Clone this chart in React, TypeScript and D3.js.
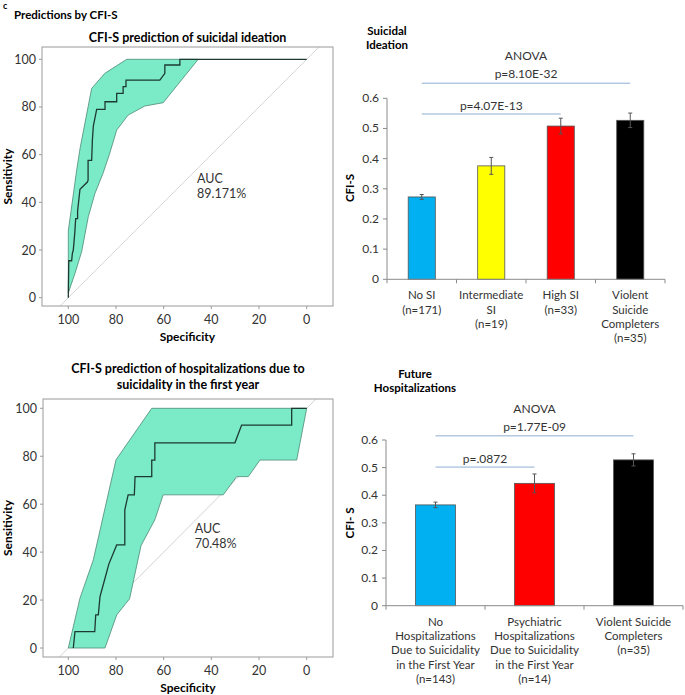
import * as d3 from "d3"

// Panel c: CFI-S predictions (ROC curves + group means)

// --- ROC: suicidal ideation ---
const siCurveSpec = [100, 99.8, 98.6, 98.3, 97.9, 97.3, 96.9, 96.1, 96.1, 95.1, 92, 91.7, 91.7, 90.2, 89.9, 89.5, 88.1, 84.6, 84.6, 79.7, 79.7, 77, 77, 75.8, 75.8, 61.6, 59.5, 59.5, 53.2, 53.2, 0]
const siCurveSens = [0, 15.5, 15.5, 18.5, 20, 27, 33.2, 33.2, 36.4, 45.5, 48.5, 49.3, 57.6, 57.6, 66, 72, 79, 79, 82.2, 82.2, 85.7, 85.7, 88.5, 88.5, 91.3, 91.3, 94.1, 97.6, 97.6, 100, 100]
const siUpperSpec = [100, 100, 96.5, 95, 90.2, 84.7, 75.5, 45.5]
const siUpperSens = [2, 28, 53.5, 63, 87.8, 94.1, 100, 100]
const siLowerSpec = [100, 97.2, 94.4, 91.6, 88.8, 85.5, 82.8, 79.7, 74.9, 67.9, 60.2, 45.5]
const siLowerSens = [2, 10.2, 19.3, 34, 43.8, 52, 60, 70.3, 76.6, 80.4, 81.8, 100]

// --- ROC: hospitalizations ---
const hoCurveSpec = [97.9, 97.2, 88.9, 88.5, 87.4, 86.7, 84.6, 83, 79.7, 76.3, 76.3, 74.9, 72.3, 72, 65, 65, 63.7, 63.7, 30.1, 27.3, 6.3, 6.3, 0]
const hoCurveSens = [0, 6.8, 6.8, 13.8, 13.8, 21.4, 29.1, 35, 43, 43, 57.6, 63.9, 63.9, 71.5, 71.5, 78.4, 78.4, 85.6, 85.6, 93, 93, 100, 100]
const hoUpperSpec = [100, 95.1, 89.5, 80, 65, 0]
const hoUpperSens = [0, 20.8, 36.8, 78.5, 100, 100]
const hoLowerSpec = [100, 84.6, 79.7, 74.3, 69.5, 63.7, 60.2, 35, 29.4, 24.5, 19.6, 4.2, 0]
const hoLowerSens = [0, 0, 13.8, 20.5, 42.7, 53.5, 63.9, 63.9, 71.5, 71.5, 78.4, 78.4, 100]

const rocTicks = [0, 20, 40, 60, 80, 100]

// --- bars: suicidal ideation ---
const siCategories = [
  ["No SI", "(n=171)"],
  ["Intermediate", "SI", "(n=19)"],
  ["High SI", "(n=33)"],
  ["Violent", "Suicide", "Completers", "(n=35)"],
]
const siMeans = [0.273, 0.376, 0.508, 0.527]
const siErrors = [0.008, 0.028, 0.026, 0.024]

// --- bars: future hospitalizations ---
const hoCategories = [
  ["No", "Hospitalizations", "Due to Suicidality", "in the First Year", "(n=143)"],
  ["Psychiatric", "Hospitalizations", "Due to Suicidality", "in the First Year", "(n=14)"],
  ["Violent Suicide", "Completers", "(n=35)"],
]
const hoMeans = [0.365, 0.443, 0.528]
const hoErrors = [0.01, 0.034, 0.022]

const barTicks = [0, 0.1, 0.2, 0.3, 0.4, 0.5, 0.6]

const siColors = ["#00b0f0", "#ffff00", "#ff0000", "#000000"]
const hoColors = ["#00b0f0", "#ff0000", "#000000"]

const FONT = "Lato, 'Open Sans', sans-serif"
const SIG = "#8eaed3"

function RocPanel(p) {
  const x = d3.scaleLinear().domain([100, 0]).range([p.xa, p.xb])
  const y = d3.scaleLinear().domain([0, 100]).range([p.ya, p.yb])
  const line = d3.line().x(d => x(d[0])).y(d => y(d[1]))
  const curve = p.cs.map((s, i) => [s, p.cy[i]])
  const band = [
    ...p.us.map((s, i) => [s, p.uy[i]]),
    ...p.ls.map((s, i) => [s, p.ly[i]]).reverse(),
  ]
  const diag = [[120, -20], [-20, 120]]
  const cx = (p.x0 + p.x1) / 2
  return (
    <g>
      <clipPath id={p.id}>
        <rect x={p.x0} y={p.y0} width={p.x1 - p.x0} height={p.y1 - p.y0} />
      </clipPath>
      <path d={line(diag)} stroke="#d4d4d4" strokeWidth={1} clipPath={`url(#${p.id})`} />
      <path d={line(band) + "Z"} fill="#7beac6" stroke="#4d8a76" strokeWidth={0.8} />
      <path d={line(curve)} fill="none" stroke="#1d3a30" strokeWidth={1.3} />
      <rect x={p.x0} y={p.y0} width={p.x1 - p.x0} height={p.y1 - p.y0} fill="none" stroke="#9a9a9a" strokeWidth={1} />
      {rocTicks.map(t => (
        <g key={"y" + t}>
          <line x1={p.x0 - 3} x2={p.x0} y1={y(t)} y2={y(t)} stroke="#9a9a9a" />
          <text x={p.x0 - 6} y={y(t) + 4.5} textAnchor="end" fontSize={12.5} fill="#333">{t}</text>
        </g>
      ))}
      {rocTicks.map(t => (
        <g key={"x" + t}>
          <line x1={x(t)} x2={x(t)} y1={p.y1} y2={p.y1 + 3} stroke="#9a9a9a" />
          <text x={x(t)} y={p.y1 + 18} textAnchor="middle" fontSize={12.5} fill="#333">{t}</text>
        </g>
      ))}
      <text x={cx} y={p.y1 + 35} textAnchor="middle" fontSize={12} fontWeight="bold">Specificity</text>
      <text transform={`translate(12,${(p.y0 + p.y1) / 2}) rotate(-90)`} textAnchor="middle" fontSize={12} fontWeight="bold">Sensitivity</text>
      {p.title.map((t, i) => (
        <text key={t} x={cx} y={p.titleY + i * 16} textAnchor="middle" fontSize={12.5} fontWeight="bold">{t}</text>
      ))}
      <text x={x(p.aucAt[0])} y={y(p.aucAt[1])} fontSize={12.5} fill="#333">AUC</text>
      <text x={x(p.aucAt[0])} y={y(p.aucAt[1]) + 15} fontSize={12.5} fill="#333">{p.auc}</text>
    </g>
  )
}

function BarPanel(p) {
  const n = p.means.length
  const x = d3.scaleBand().domain(d3.range(n)).range([p.x0, p.x1]).paddingInner(p.pad).paddingOuter(p.pad / 2)
  const y = d3.scaleLinear().domain([0, 0.6]).range([p.yb, p.yt])
  const mid = i => x(i) + x.bandwidth() / 2
  const step = (p.x1 - p.x0) / n
  const fmt = d => (d === 0 ? "0" : d3.format(".1f")(d))
  const aMid = (mid(0) + mid(n - 1)) / 2
  const pMid = (mid(0) + mid(p.pairTo)) / 2
  return (
    <g>
      {p.heading.map((t, i) => (
        <text key={t} x={p.headX} y={p.headY + i * 14} textAnchor="middle" fontSize={11.5} fontWeight="bold">{t}</text>
      ))}
      <text x={aMid} y={y(p.anovaV) - 23} textAnchor="middle" fontSize={12} fill="#333">ANOVA</text>
      <text x={aMid} y={y(p.anovaV) - 5} textAnchor="middle" fontSize={12} fill="#333">{p.anovaP}</text>
      <line x1={mid(0)} x2={mid(n - 1)} y1={y(p.anovaV)} y2={y(p.anovaV)} stroke={SIG} />
      <text x={pMid} y={y(p.pairV) - 4} textAnchor="middle" fontSize={12} fill="#333">{p.pairP}</text>
      <line x1={mid(0)} x2={mid(p.pairTo)} y1={y(p.pairV)} y2={y(p.pairV)} stroke={SIG} />
      {p.means.map((m, i) => (
        <g key={i}>
          <rect x={x(i)} y={y(m)} width={x.bandwidth()} height={y(0) - y(m)} fill={p.colors[i]} stroke="#555" strokeWidth={0.8} />
          <line x1={mid(i)} x2={mid(i)} y1={y(m + p.errs[i])} y2={y(m - p.errs[i])} stroke="#555" />
          <line x1={mid(i) - 2} x2={mid(i) + 2} y1={y(m + p.errs[i])} y2={y(m + p.errs[i])} stroke="#555" />
          <line x1={mid(i) - 2} x2={mid(i) + 2} y1={y(m - p.errs[i])} y2={y(m - p.errs[i])} stroke="#555" />
          {p.cats[i].map((t, j) => (
            <text key={j} x={mid(i)} y={y(0) + 20 + j * p.lh} textAnchor="middle" fontSize={11.5} fill="#333">{t}</text>
          ))}
        </g>
      ))}
      <line x1={p.x0} x2={p.x0} y1={y(0.6)} y2={y(0)} stroke="#8a8a8a" />
      {barTicks.map(t => (
        <g key={t}>
          <line x1={p.x0 - 4} x2={p.x0} y1={y(t)} y2={y(t)} stroke="#8a8a8a" />
          <text x={p.x0 - 8} y={y(t) + 4} textAnchor="end" fontSize={12} fill="#333">{fmt(t)}</text>
        </g>
      ))}
      <line x1={p.x0} x2={p.x1} y1={y(0)} y2={y(0)} stroke="#8a8a8a" />
      {d3.range(n + 1).map(i => (
        <line key={i} x1={p.x0 + i * step} x2={p.x0 + i * step} y1={y(0)} y2={y(0) + 4} stroke="#8a8a8a" />
      ))}
      <text transform={`translate(354,${p.labY}) rotate(-90)`} textAnchor="middle" fontSize={11.5} fontWeight="bold">{p.yLabel}</text>
    </g>
  )
}

export default function App() {
  return (
    <div style={{ position: "absolute", left: 0, top: 0 }}>
      <svg width={685} height={695} style={{ fontFamily: FONT, display: "block", background: "#fff" }}>
        <text x={3} y={9} fontSize={9} fontWeight="bold">c</text>
        <text x={14} y={19} fontSize={11.5} fontWeight="bold">Predictions by CFI-S</text>

        <RocPanel id="clipSi" x0={42} x1={333} y0={47} y1={306} xa={68.3} xb={306.7} ya={297.7} yb={59.3}
          cs={siCurveSpec} cy={siCurveSens} us={siUpperSpec} uy={siUpperSens} ls={siLowerSpec} ly={siLowerSens}
          title={["CFI-S prediction of suicidal ideation"]} titleY={42} auc="89.171%" aucAt={[46, 48]} />

        <RocPanel id="clipHo" x0={43} x1={333} y0={399} y1={657} xa={68.3} xb={306.7} ya={648} yb={408.3}
          cs={hoCurveSpec} cy={hoCurveSens} us={hoUpperSpec} uy={hoUpperSens} ls={hoLowerSpec} ly={hoLowerSens}
          title={["CFI-S prediction of hospitalizations due to", "suicidality in the first year"]} titleY={373} auc="70.48%" aucAt={[47, 48]} />

        <BarPanel x0={387} x1={665} yb={279.3} yt={98.3} pad={0.61} means={siMeans} errs={siErrors} colors={siColors}
          cats={siCategories} lh={14.3} heading={["Suicidal", "Ideation"]} headX={387} headY={35}
          anovaV={0.65} anovaP="p=8.10E-32" pairV={0.548} pairTo={2} pairP="p=4.07E-13" yLabel="CFI-S" labY={188} />

        <BarPanel x0={386} x1={683} yb={605.7} yt={440} pad={0.596} means={hoMeans} errs={hoErrors} colors={hoColors}
          cats={hoCategories} lh={14.3} heading={["Future", "Hospitalizations"]} headX={415} headY={378}
          anovaV={0.615} anovaP="p=1.77E-09" pairV={0.502} pairTo={1} pairP="p=.0872" yLabel="CFI- S" labY={523} />
      </svg>
    </div>
  )
}
